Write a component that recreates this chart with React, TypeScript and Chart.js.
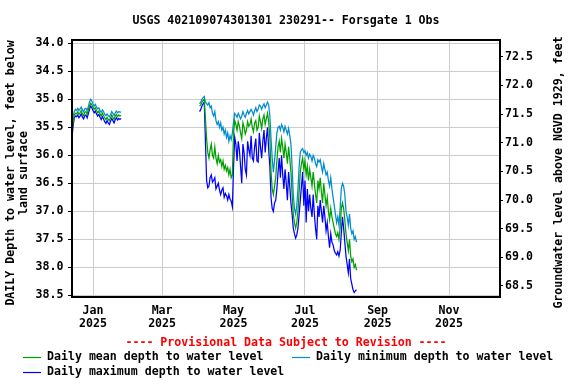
import React, { useEffect, useRef } from "react";
import { Chart, registerables } from "chart.js";

Chart.register(...registerables);

const FONT_FAMILY = "'DejaVu Sans Mono', 'Liberation Mono', monospace";
const FONT_SIZE = 11.6;

const chartTitle = "USGS 402109074301301 230291-- Forsgate 1 Obs";
const leftAxisTitle = ["DAILY Depth to water level, feet below", "land surface"];
const rightAxisTitle = "Groundwater level above NGVD 1929, feet";
const provisionalText = "---- Provisional Data Subject to Revision ----";

const seriesNames = [
  "Daily mean depth to water level",
  "Daily minimum depth to water level",
  "Daily maximum depth to water level",
];
const seriesColors = ["#00a000", "rgb(0,140,210)", "#0000ff"];

// x axis: days since 2025-01-01
const xTickDays = [0, 59, 120, 181, 243, 304];
const xTickMonths = ["Jan", "Mar", "May", "Jul", "Sep", "Nov"];
const xTickYears = ["2025", "2025", "2025", "2025", "2025", "2025"];

const leftTicks = [34.0, 34.5, 35.0, 35.5, 36.0, 36.5, 37.0, 37.5, 38.0, 38.5];
const rightTicks = [68.5, 69.0, 69.5, 70.0, 70.5, 71.0, 71.5, 72.0, 72.5];

// segment 1: daily values starting 2024-12-14 (day -18)
const seg1StartDay = -18;
const mean1 = [35.58, 35.40, 35.28, 35.25, 35.26, 35.22, 35.27, 35.24, 35.20, 35.26, 35.29, 35.23, 35.22, 35.27, 35.20, 35.12, 35.07, 35.10, 35.14, 35.18, 35.15, 35.20, 35.24, 35.21, 35.26, 35.30, 35.25, 35.29, 35.33, 35.36, 35.32, 35.36, 35.38, 35.33, 35.28, 35.32, 35.36, 35.30, 35.27, 35.31, 35.28, 35.30, 35.29];
const min1 = [35.50, 35.30, 35.22, 35.18, 35.20, 35.16, 35.20, 35.17, 35.14, 35.19, 35.22, 35.17, 35.16, 35.20, 35.13, 35.05, 35.00, 35.03, 35.08, 35.12, 35.09, 35.14, 35.17, 35.15, 35.20, 35.23, 35.19, 35.22, 35.27, 35.29, 35.26, 35.29, 35.31, 35.27, 35.22, 35.25, 35.29, 35.24, 35.21, 35.24, 35.22, 35.23, 35.23];
const max1 = [35.70, 35.48, 35.33, 35.30, 35.31, 35.28, 35.33, 35.30, 35.26, 35.32, 35.35, 35.29, 35.28, 35.33, 35.26, 35.18, 35.12, 35.15, 35.20, 35.24, 35.21, 35.26, 35.30, 35.27, 35.32, 35.36, 35.31, 35.35, 35.40, 35.43, 35.38, 35.42, 35.45, 35.39, 35.34, 35.38, 35.42, 35.36, 35.33, 35.37, 35.34, 35.36, 35.34];

// segment 2: daily values starting 2025-04-02 (day 91)
const seg2StartDay = 91;
const mean2 = [
  35.12, 35.10, 35.05, 35.02, 35.00, 35.35,
  35.70, 35.95, 36.05, 35.90, 35.80, 36.00, 36.05, 35.85, 36.05, 36.15, 36.00, 36.12, 36.08, 36.20, 36.10, 36.25, 36.18, 36.28, 36.22, 36.35, 36.25, 36.40, 36.35,
  35.60, 35.38, 35.45, 35.55, 35.40, 35.48, 35.60, 35.70, 35.42, 35.50, 35.62, 35.55, 35.40, 35.48, 35.45, 35.35, 35.50, 35.58, 35.42, 35.38, 35.55, 35.50, 35.30, 35.40, 35.52, 35.35, 35.28, 35.45, 35.35, 35.25, 35.40,
  35.70, 36.30, 36.60, 36.70, 36.55, 36.40, 36.10, 35.85, 35.75, 35.95, 35.70, 35.85, 36.05, 35.80, 35.95, 36.15, 35.85, 36.05, 36.30, 36.70, 37.05, 37.20, 37.30, 37.20, 37.00, 36.65, 36.30, 36.15, 36.05, 36.25,
  36.10, 36.35, 36.20, 36.45, 36.25, 36.40, 36.55, 36.30, 36.50, 36.70, 36.85, 36.45, 36.60, 36.40, 36.65, 36.85, 36.50, 36.70, 36.90, 36.75, 37.00, 37.15, 36.95, 37.10, 37.20, 37.30, 37.40, 37.45, 37.38, 37.50, 37.30, 36.95, 36.85, 36.95, 37.15, 37.40, 37.55, 37.70, 37.50, 37.80, 37.90, 37.85, 38.00, 37.95, 38.05,
];
const min2 = [
  35.08, 35.05, 35.00, 34.97, 34.95, 35.05,
  35.08, 35.10, 35.06, 35.15, 35.12, 35.25, 35.30, 35.22, 35.38, 35.45, 35.40, 35.50, 35.42, 35.55, 35.50, 35.62, 35.55, 35.68, 35.60, 35.75, 35.65, 35.72, 35.60,
  35.40, 35.25, 35.28, 35.32, 35.25, 35.30, 35.35, 35.30, 35.22, 35.28, 35.32, 35.25, 35.20, 35.26, 35.22, 35.18, 35.22, 35.28, 35.20, 35.15, 35.22, 35.18, 35.10, 35.12, 35.18, 35.12, 35.08, 35.15, 35.10, 35.05, 35.10,
  35.30, 35.70, 36.05, 36.30, 36.10, 35.85, 35.60, 35.50, 35.48, 35.55, 35.45, 35.50, 35.58, 35.48, 35.55, 35.62, 35.52, 35.65, 35.80, 36.20, 36.70, 36.95, 37.05, 36.90, 36.60, 36.20, 35.95, 35.90, 35.88, 35.95,
  35.92, 36.00, 35.95, 36.05, 35.98, 36.02, 36.10, 36.00, 36.05, 36.15, 36.20, 36.08, 36.12, 36.08, 36.20, 36.30, 36.15, 36.25, 36.35, 36.30, 36.45, 36.55, 36.40, 36.60, 36.75, 36.90, 37.05, 37.20, 37.10, 37.25, 36.95, 36.60, 36.50, 36.55, 36.70, 37.00, 37.10, 37.25, 37.05, 37.30, 37.40, 37.35, 37.50, 37.45, 37.55,
];
const max2 = [
  35.22, 35.18, 35.12, 35.08, 35.05, 35.75,
  36.45, 36.58, 36.55, 36.40, 36.35, 36.48, 36.45, 36.40, 36.60, 36.55, 36.50, 36.62, 36.70, 36.62, 36.58, 36.75, 36.68, 36.72, 36.80, 36.70, 36.78, 36.82, 36.92,
  36.20, 35.68, 35.80, 36.10, 35.75, 35.90, 36.20, 36.50, 35.80, 35.95, 36.25, 36.35, 35.75, 35.90, 36.00, 35.65, 36.05, 36.10, 35.85, 35.70, 36.10, 36.12, 35.60, 35.85, 36.05, 35.75, 35.55, 35.95, 35.70, 35.50, 35.90,
  36.20, 36.75, 36.95, 37.00, 36.85, 36.80, 36.60, 36.30, 36.05, 36.40, 36.00, 36.35, 36.60, 36.25, 36.50, 36.80, 36.30, 36.55, 36.85, 37.05, 37.30, 37.40, 37.48, 37.42, 37.30, 37.05, 36.80, 36.55, 36.30, 36.90,
  36.45, 37.20, 36.60, 37.00, 36.70, 36.95, 37.10, 36.70, 37.05, 37.30, 37.50, 36.90, 37.10, 36.80, 37.00, 37.20, 36.90, 37.10, 37.35, 37.20, 37.45, 37.65, 37.40, 37.55, 37.60, 37.70, 37.75, 37.78, 37.72, 37.80, 37.70, 37.40, 37.10, 37.30, 37.55, 37.80, 37.95, 38.10, 37.85, 38.20, 38.30, 38.40, 38.45, 38.42, 38.40,
];

function toPoints(a: number[], b: number[]) {
  const pts: { x: number; y: number | null }[] = [];
  a.forEach((v, i) => pts.push({ x: seg1StartDay + i, y: v }));
  pts.push({ x: (seg1StartDay + a.length + seg2StartDay) / 2, y: null });
  b.forEach((v, i) => pts.push({ x: seg2StartDay + i, y: v }));
  return pts;
}

const font = (size = FONT_SIZE) => ({
  family: FONT_FAMILY,
  size,
  weight: "bold" as const,
  lineHeight: 13 / size,
});

const overlayPlugin = {
  id: "overlay",
  afterDraw(chart: any) {
    const { ctx, chartArea } = chart;
    const { left, top, right, bottom } = chartArea;
    ctx.save();
    // frame
    ctx.strokeStyle = "#000";
    ctx.lineWidth = 2;
    ctx.strokeRect(left, top, right - left, bottom - top);

    ctx.font = `bold ${FONT_SIZE}px ${FONT_FAMILY}`;
    ctx.textBaseline = "middle";

    // left axis title (two lines, reading upward)
    ctx.fillStyle = "#000";
    ctx.textAlign = "center";
    ctx.save();
    ctx.translate(11, 173);
    ctx.rotate(-Math.PI / 2);
    ctx.fillText(leftAxisTitle[0], 0, 0);
    ctx.fillText(leftAxisTitle[1], 0, 13);
    ctx.restore();

    // right axis title (reading upward)
    ctx.save();
    ctx.translate(559, 172.5);
    ctx.rotate(-Math.PI / 2);
    ctx.fillText(rightAxisTitle, 0, 0);
    ctx.restore();

    // provisional note
    ctx.fillStyle = "#ff0000";
    ctx.textAlign = "center";
    ctx.fillText(provisionalText, (left + right) / 2, 343);

    // legend
    const items = [
      { x: 23, y: 357, i: 0 },
      { x: 292, y: 357, i: 1 },
      { x: 23, y: 372, i: 2 },
    ];
    ctx.textAlign = "left";
    items.forEach(({ x, y, i }) => {
      ctx.strokeStyle = seriesColors[i];
      ctx.lineWidth = 1.2;
      ctx.beginPath();
      ctx.moveTo(x, y + 0.5);
      ctx.lineTo(x + 18, y + 0.5);
      ctx.stroke();
      ctx.fillStyle = "#000";
      ctx.fillText(seriesNames[i], x + 24, y);
    });
    ctx.restore();
  },
};

export default function App() {
  const ref = useRef<HTMLCanvasElement>(null);

  useEffect(() => {
    const datasets = [
      { label: seriesNames[0], data: toPoints(mean1, mean2), borderColor: seriesColors[0] },
      { label: seriesNames[1], data: toPoints(min1, min2), borderColor: seriesColors[1] },
      { label: seriesNames[2], data: toPoints(max1, max2), borderColor: seriesColors[2] },
    ].map((d) => ({
      ...d,
      borderWidth: 1.25,
      pointRadius: 0,
      tension: 0,
      fill: false,
      spanGaps: false,
      yAxisID: "y",
      xAxisID: "x",
    }));

    const chart = new Chart(ref.current as HTMLCanvasElement, {
      type: "line",
      data: { datasets },
      plugins: [overlayPlugin],
      options: {
        animation: false,
        responsive: false,
        devicePixelRatio: 1,
        layout: { padding: 0 },
        plugins: {
          legend: { display: false },
          tooltip: { enabled: false },
          title: {
            display: true,
            text: chartTitle,
            color: "#000",
            fullSize: false,
            font: font(),
            padding: { top: 14, bottom: 13 },
          },
        },
        scales: {
          x: {
            type: "linear",
            min: -17.93,
            max: 347.5,
            afterBuildTicks: (axis: any) => {
              axis.ticks = xTickDays.map((v) => ({ value: v }));
            },
            afterFit: (scale: any) => {
              scale.height = 87;
            },
            ticks: {
              autoSkip: false,
              maxRotation: 0,
              minRotation: 0,
              padding: 7.5,
              color: "#000",
              font: font(),
              callback: (_v: any, i: number) => [xTickMonths[i], xTickYears[i]],
            },
            grid: { color: "#cccccc", lineWidth: 1, drawTicks: false },
            border: { display: false },
          },
          y: {
            type: "linear",
            position: "left",
            reverse: true,
            min: 33.941,
            max: 38.53,
            afterBuildTicks: (axis: any) => {
              axis.ticks = leftTicks.map((v) => ({ value: v }));
            },
            afterFit: (scale: any) => {
              scale.width = 72;
            },
            ticks: {
              padding: 4.5,
              color: "#000",
              font: font(),
              callback: (v: any) => Number(v).toFixed(1),
            },
            grid: { color: "#cccccc", lineWidth: 1, drawTicks: true, tickLength: 4, tickColor: "#000" },
            border: { display: false },
          },
          y2: {
            type: "linear",
            position: "right",
            min: 68.308,
            max: 72.791,
            afterBuildTicks: (axis: any) => {
              axis.ticks = rightTicks.map((v) => ({ value: v }));
            },
            afterFit: (scale: any) => {
              scale.width = 76;
            },
            ticks: {
              padding: 2,
              color: "#000",
              font: font(),
              callback: (v: any) => Number(v).toFixed(1),
            },
            grid: { drawOnChartArea: false, drawTicks: true, tickLength: 3, tickColor: "#000", color: "#000" },
            border: { display: false },
          },
        },
      } as any,
    });
    return () => chart.destroy();
  }, []);

  return (
    <div style={{ position: "absolute", left: 0, top: 0, width: 576, height: 384 }}>
      <canvas ref={ref} width={576} height={384} style={{ display: "block", width: 576, height: 384 }} />
    </div>
  );
}
